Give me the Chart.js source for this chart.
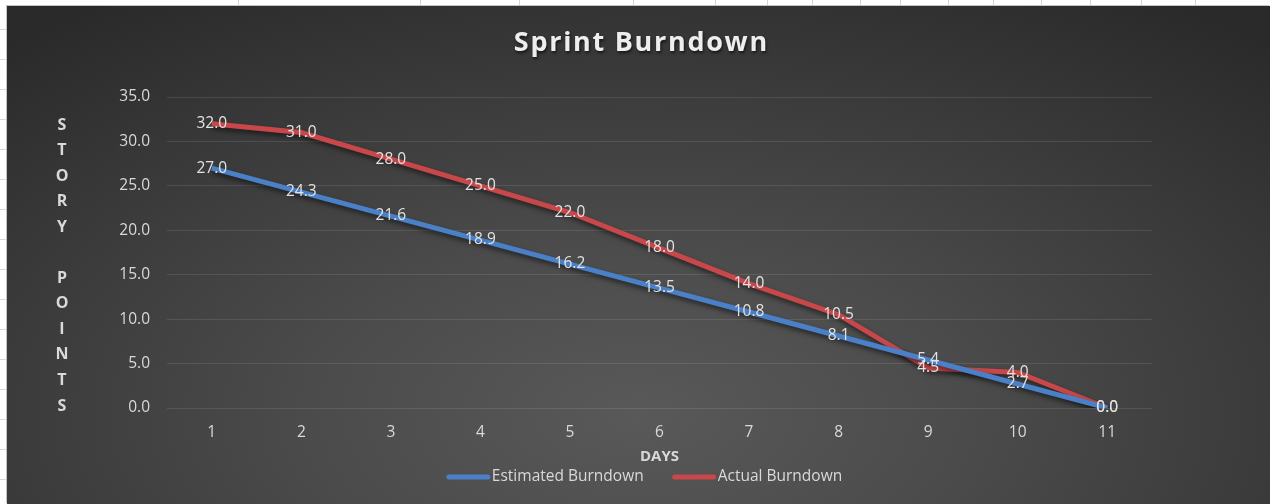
<!DOCTYPE html>
<html>
<head>
<meta charset="utf-8">
<title>Sprint Burndown</title>
<script src="https://cdn.jsdelivr.net/npm/chart.js@4/dist/chart.umd.min.js"></script>
<style>
  html, body { margin: 0; padding: 0; }
  body {
    width: 1270px; height: 504px; overflow: hidden; position: relative;
    background: #fff repeating-linear-gradient(to bottom, transparent 0 29px, #d9d9d9 29px 30px);
  }
  /* the spreadsheet strip above the chart object */
  #sheetTop { position: absolute; left: 0; top: 0; width: 1270px; height: 6px; background: #fff; }
  #sheetTop i { position: absolute; top: 0; width: 1px; height: 6px; background: #d4d4d4; }
  #wrap {
    position: absolute; left: 7px; top: 6px; width: 1263px; height: 498px;
    box-shadow: -1px -1px 0 #c4c4c4;
    background: radial-gradient(ellipse 75% 100% at 50% 82%, #595959 0%, #4b4b4b 35%, #2a2a2a 100%);
  }
</style>
</head>
<body>
<div id="sheetTop"></div>
<div id="wrap"><canvas id="chart" width="1263" height="498"></canvas></div>
<script>
// sheet column borders peeking out above the chart
[238, 420, 519, 633, 715, 767, 812, 860, 900, 948, 993, 1041, 1090, 1141, 1195].forEach((x) => {
  const i = document.createElement('i');
  i.style.left = x + 'px';
  document.getElementById('sheetTop').appendChild(i);
});

const days = ['1', '2', '3', '4', '5', '6', '7', '8', '9', '10', '11'];
const estimated = [27.0, 24.3, 21.6, 18.9, 16.2, 13.5, 10.8, 8.1, 5.4, 2.7, 0.0];
const actual = [32.0, 31.0, 28.0, 25.0, 22.0, 18.0, 14.0, 10.5, 4.5, 4.0, 0.0];
const yTitle = ['S', 'T', 'O', 'R', 'Y', '', 'P', 'O', 'I', 'N', 'T', 'S'];
const chartTitle = 'Sprint Burndown';

const FONT = '"Open Sans", "Noto Sans", sans-serif';
const TEXT = '#d9d9d9';
const BLUE = '#4a80c8';
const RED = '#c8474a';
const SIZE = 15.5;

// Excel-style soft drop shadow under the series lines
const lineShadow = {
  id: 'lineShadow',
  beforeDatasetsDraw(chart) {
    const ctx = chart.ctx;
    ctx.save();
    ctx.shadowColor = 'rgba(0,0,0,0.55)';
    ctx.shadowBlur = 5;
    ctx.shadowOffsetX = 1;
    ctx.shadowOffsetY = 3;
  },
  afterDatasetsDraw(chart) {
    chart.ctx.restore();
  },
};

// value labels centred on each point (no datalabels plugin offline)
const valueLabels = {
  id: 'valueLabels',
  afterDatasetsDraw(chart) {
    const ctx = chart.ctx;
    ctx.save();
    ctx.font = SIZE + 'px ' + FONT;
    ctx.fillStyle = '#e2e2e2';
    ctx.textAlign = 'center';
    ctx.textBaseline = 'middle';
    chart.data.datasets.forEach((ds, di) => {
      chart.getDatasetMeta(di).data.forEach((pt, i) => {
        ctx.fillText(ds.data[i].toFixed(1), pt.x, pt.y);
      });
    });
    ctx.restore();
  },
};

// Excel's title is letter-spaced with a drop shadow, so it is drawn here
const spacedTitle = {
  id: 'spacedTitle',
  afterDraw(chart) {
    const ctx = chart.ctx;
    const spacing = 1.7;
    ctx.save();
    ctx.font = 'bold 27px ' + FONT;
    ctx.letterSpacing = spacing + 'px';
    ctx.fillStyle = '#eeeeee';
    ctx.shadowColor = 'rgba(0,0,0,0.6)';
    ctx.shadowBlur = 3;
    ctx.shadowOffsetX = 1;
    ctx.shadowOffsetY = 2;
    ctx.textAlign = 'center';
    ctx.textBaseline = 'middle';
    ctx.fillText(chartTitle, chart.width / 2 + 2 + spacing / 2, 37);
    ctx.restore();
  },
};

// y title written as a column of upright letters
const stackedTitle = {
  id: 'stackedTitle',
  afterDraw(chart) {
    const { ctx, chartArea } = chart;
    const step = (chartArea.bottom - chartArea.top - 30) / (yTitle.length - 1);
    ctx.save();
    ctx.font = 'bold 16px ' + FONT;
    ctx.fillStyle = TEXT;
    ctx.textAlign = 'center';
    ctx.textBaseline = 'middle';
    yTitle.forEach((ch, i) => ctx.fillText(ch, 55, chartArea.top + 28 + i * step));
    ctx.restore();
  },
};

// legend with short line swatches, laid out the way Excel does
const lineLegend = {
  id: 'lineLegend',
  afterDraw(chart) {
    const ctx = chart.ctx;
    const y = 471, sw = 43, gap = 2, itemGap = 29;
    ctx.save();
    ctx.font = SIZE + 'px ' + FONT;
    ctx.textBaseline = 'middle';
    const items = chart.data.datasets.map((ds) => ({
      label: ds.label, color: ds.borderColor, w: ctx.measureText(ds.label).width,
    }));
    const total = items.reduce((s, it) => s + sw + gap + it.w, 0) + itemGap * (items.length - 1);
    let x = chart.width / 2 + 6 - total / 2;
    items.forEach((it) => {
      ctx.strokeStyle = it.color;
      ctx.lineWidth = 5;
      ctx.lineCap = 'round';
      ctx.beginPath();
      ctx.moveTo(x + 2, y);
      ctx.lineTo(x + sw - 2, y);
      ctx.stroke();
      ctx.fillStyle = TEXT;
      ctx.fillText(it.label, x + sw + gap, y);
      x += sw + gap + it.w + itemGap;
    });
    ctx.restore();
  },
};

new Chart(document.getElementById('chart'), {
  type: 'line',
  plugins: [lineShadow, valueLabels, spacedTitle, stackedTitle, lineLegend],
  data: {
    labels: days,
    datasets: [
      {
        label: 'Estimated Burndown',
        data: estimated,
        borderColor: BLUE,
        backgroundColor: BLUE,
        borderWidth: 5,
        pointRadius: 0,
        tension: 0,
      },
      {
        label: 'Actual Burndown',
        data: actual,
        borderColor: RED,
        backgroundColor: RED,
        borderWidth: 5,
        pointRadius: 0,
        tension: 0,
      },
    ],
  },
  options: {
    responsive: false,
    animation: false,
    layout: { padding: { left: 0, right: 118, top: 91, bottom: 36 } },
    scales: {
      x: {
        offset: true,
        grid: { display: false, drawTicks: false },
        border: { display: false },
        ticks: { color: TEXT, font: { family: FONT, size: SIZE }, padding: 15, maxRotation: 0 },
        title: {
          display: true,
          text: 'DAYS',
          color: TEXT,
          font: { family: FONT, size: 15, weight: 'bold' },
          padding: { top: 0, bottom: 2 },
        },
        afterFit(scale) { scale.height = 60; },
      },
      y: {
        min: 0,
        max: 35,
        grid: { color: 'rgba(255,255,255,0.10)', lineWidth: 1, drawTicks: false },
        border: { display: false },
        ticks: {
          stepSize: 5,
          color: TEXT,
          font: { family: FONT, size: SIZE },
          padding: 17,
          callback: (v) => v.toFixed(1),
        },
        afterFit(scale) { scale.width = 160; },
      },
    },
    plugins: {
      legend: { display: false },
      tooltip: { enabled: false },
      title: { display: false },
    },
  },
});
</script>
</body>
</html>
